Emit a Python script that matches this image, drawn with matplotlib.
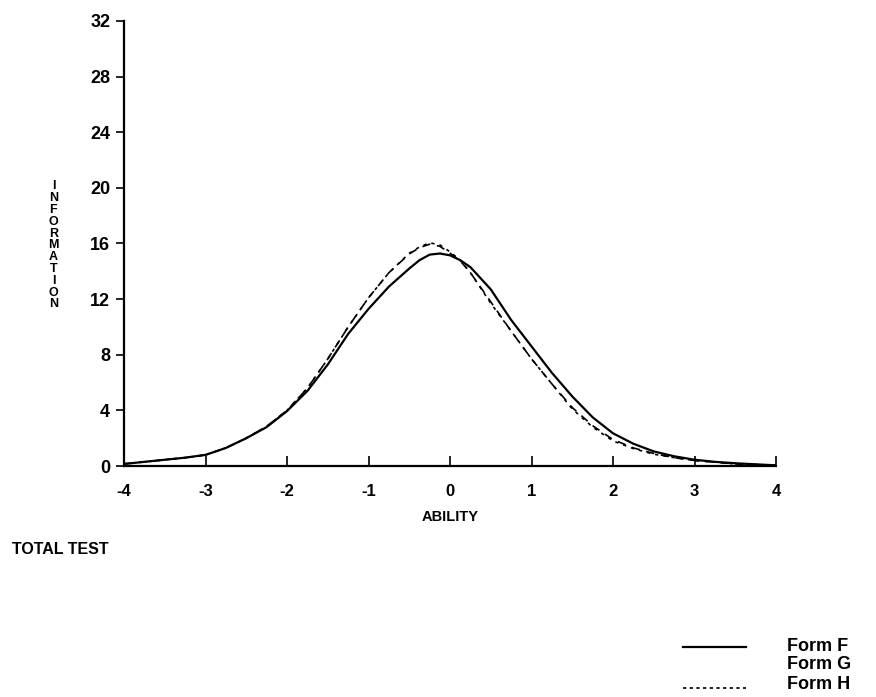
import matplotlib.pyplot as plt
from matplotlib.lines import Line2D

plt.rcParams['font.family'] = ['Liberation Sans', 'DejaVu Sans']
plt.rcParams['font.weight'] = 'bold'
plt.rcParams['axes.unicode_minus'] = False

# ability points and information values
ability = [-4, -3.75, -3.5, -3.25, -3, -2.75, -2.5, -2.25, -2, -1.75, -1.5, -1.25, -1,
           -0.75, -0.5, -0.375, -0.25, -0.125, 0, 0.125, 0.25, 0.5, 0.75, 1, 1.25, 1.5,
           1.75, 2, 2.25, 2.5, 2.75, 3, 3.25, 3.5, 3.75, 4]
form_f = [0.15, 0.3, 0.45, 0.6, 0.8, 1.3, 2.0, 2.8, 3.95, 5.4, 7.3, 9.5, 11.3,
          12.9, 14.2, 14.8, 15.2, 15.28, 15.15, 14.8, 14.3, 12.7, 10.5, 8.6, 6.7, 5.0,
          3.5, 2.35, 1.6, 1.05, 0.7, 0.45, 0.3, 0.2, 0.12, 0.05]
form_g = [0.15, 0.3, 0.45, 0.6, 0.8, 1.3, 2.0, 2.85, 4.0, 5.6, 7.7, 10.0, 12.1,
          13.9, 15.25, 15.7, 15.95, 15.8, 15.3, 14.75, 13.9, 11.8, 9.7, 7.7, 5.9, 4.2,
          2.9, 1.9, 1.3, 0.9, 0.6, 0.4, 0.28, 0.15, 0.1, 0.05]
form_h = [0.15, 0.3, 0.45, 0.6, 0.8, 1.3, 2.0, 2.85, 4.0, 5.6, 7.7, 10.0, 12.1,
          13.9, 15.3, 15.75, 16.05, 15.9, 15.4, 14.8, 13.9, 11.7, 9.7, 7.7, 5.9, 4.1,
          2.8, 1.8, 1.25, 0.85, 0.6, 0.4, 0.28, 0.15, 0.1, 0.05]

xticks = [-4, -3, -2, -1, 0, 1, 2, 3, 4]
yticks = [0, 4, 8, 12, 16, 20, 24, 28, 32]

fig = plt.figure(figsize=(8.76, 6.97), dpi=100)
ax = fig.add_axes([0.1416, 0.3314, 0.7443, 0.6385])

ax.plot(ability, form_f, color='black', lw=1.6, ls='-', label='Form F')
ax.plot(ability, form_g, color='black', lw=1.2, ls=(0, (5, 4)), label='Form G')
ax.plot(ability, form_h, color='black', lw=1.2, ls=(0, (2, 3)), label='Form H')

ax.set_xlim(-4, 4)
ax.set_ylim(0, 32)
ax.set_xticks(xticks)
ax.set_yticks(yticks)
ax.spines['top'].set_visible(False)
ax.spines['right'].set_visible(False)
for s in ['left', 'bottom']:
    ax.spines[s].set_linewidth(1.6)
ax.tick_params(axis='x', direction='in', length=7, width=1.2, labelsize=12, pad=13)
ax.tick_params(axis='y', direction='out', length=6, width=1.2, labelsize=13, pad=4)
for lab in ax.get_xticklabels() + ax.get_yticklabels():
    lab.set_fontweight('bold')

ax.set_xlabel('ABILITY', fontsize=10.5, fontweight='bold', labelpad=8)

# stacked vertical y label
fig.text(0.061, 0.648, '\n'.join('INFORMATION'), fontsize=9, fontweight='bold',
         ha='center', va='center', linespacing=0.98)

fig.text(0.014, 0.211, 'TOTAL TEST', fontsize=11.5, fontweight='bold', ha='left', va='center')

# legend drawn by hand
leg_y = [0.072, 0.046, 0.018]
labels = ['Form F', 'Form G', 'Form H']
styles = [('-', 1.6), (None, 0), ((0, (2, 2)), 1.2)]
for y, lab, (ls, lw) in zip(leg_y, labels, styles):
    if ls is not None:
        ly = y - 0.005 if lab == 'Form H' else y
        fig.add_artist(Line2D([0.780, 0.852], [ly, ly],
                              transform=fig.transFigure, color='black', ls=ls, lw=lw))
    fig.text(0.898, y, lab, fontsize=13, fontweight='bold', ha='left', va='center')

fig.savefig('out.png', dpi=100)
